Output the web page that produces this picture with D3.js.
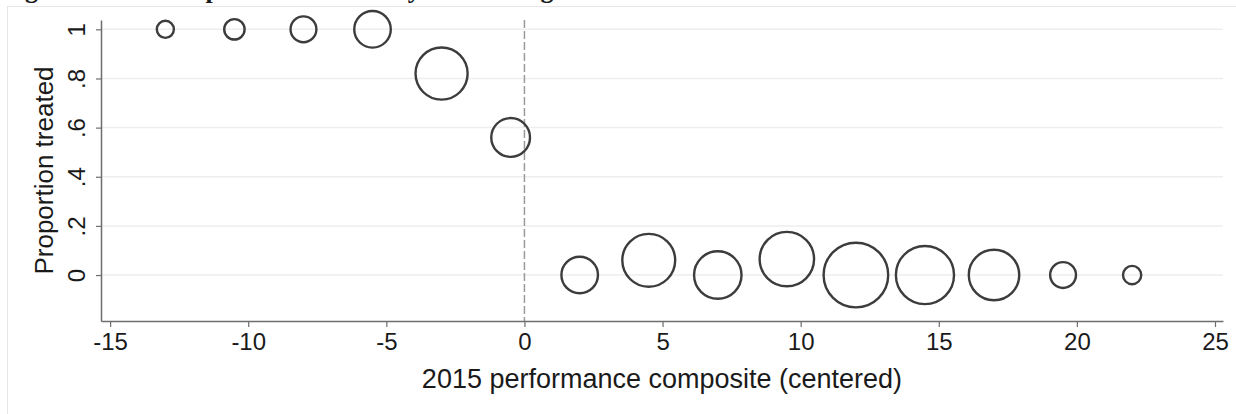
<!DOCTYPE html>
<html>
<head>
<meta charset="utf-8">
<script src="https://cdn.jsdelivr.net/npm/d3@7/dist/d3.min.js"></script>
<style>
  html, body { margin: 0; padding: 0; background: #fff; }
  svg { display: block; }
  text { font-family: "Liberation Sans", Arial, Helvetica, sans-serif; fill: #1a1a1a; }
</style>
</head>
<body>
<svg id="chart" width="1236" height="414"></svg>
<script>
// Bin midpoints of the centered 2015 performance composite
const binCenters = [-13, -10.5, -8, -5.5, -3, -0.5, 2, 4.5, 7, 9.5, 12, 14.5, 17, 19.5, 22];
// Share of schools treated in each bin
const propTreated = [1, 1, 1, 1, 0.82, 0.56, 0, 0.06, 0, 0.065, 0, 0, 0, 0, 0];
// Number of schools per bin (marker area is proportional)
const binCounts = [7, 10, 16, 32, 65, 36, 32, 67, 54, 71, 100, 81, 61, 16, 8];

const xTicks = [-15, -10, -5, 0, 5, 10, 15, 20, 25];
const xTickLabels = ["-15", "-10", "-5", "0", "5", "10", "15", "20", "25"];
const yTicks = [0, 0.2, 0.4, 0.6, 0.8, 1];
const yTickLabels = ["0", ".2", ".4", ".6", ".8", "1"];
const cutoff = 0;

const titleText = "Figure 3: The compliance schedule by 2015 rating";
const xTitle = "2015 performance composite (centered)";
const yTitle = "Proportion treated";

const W = 1236, H = 414;
const plot = { left: 101, right: 1223, top: 20, bottom: 321 };

const svg = d3.select("#chart");

svg.append("rect").attr("width", W).attr("height", H).attr("fill", "#fff");

// Document caption sitting above the figure frame
svg.append("text")
  .attr("x", 2).attr("y", -2)
  .style("font-family", "'Liberation Serif', 'Times New Roman', serif")
  .style("font-weight", "bold")
  .style("font-size", "26px")
  .attr("fill", "#000")
  .text(titleText);

// Graph region frame
svg.append("rect")
  .attr("x", 7.5).attr("y", 6.5)
  .attr("width", W + 20).attr("height", H + 20)
  .attr("fill", "#fff")
  .attr("stroke", "#e6e6e6").attr("stroke-width", 1);

const x = d3.scaleLinear().domain([-15.33, 25.29]).range([plot.left, plot.right]);
const y = d3.scaleLinear().domain([-0.187, 1.038]).range([plot.bottom, plot.top]);
const r = d3.scaleSqrt().domain([0, 100]).range([0, 32.3]);

// Horizontal gridlines
svg.append("g")
  .selectAll("line")
  .data(yTicks)
  .join("line")
  .attr("x1", plot.left).attr("x2", plot.right)
  .attr("y1", d => y(d)).attr("y2", d => y(d))
  .attr("stroke", "#eeeeee").attr("stroke-width", 1.5);

// Cutoff reference line
svg.append("line")
  .attr("x1", x(cutoff)).attr("x2", x(cutoff))
  .attr("y1", plot.top).attr("y2", plot.bottom)
  .attr("stroke", "#9a9a9a").attr("stroke-width", 1.5)
  .attr("stroke-dasharray", "8,3");

// Axes
const axisColor = "#6e6e6e";

const xAxis = svg.append("g")
  .attr("transform", `translate(0,${plot.bottom})`)
  .call(d3.axisBottom(x).tickValues(xTicks).tickSize(6).tickSizeOuter(0)
    .tickFormat((d, i) => xTickLabels[i]));
xAxis.select(".domain").attr("stroke", axisColor).attr("stroke-width", 1.5);
xAxis.selectAll(".tick line").attr("stroke", axisColor).attr("stroke-width", 1.2);
xAxis.selectAll(".tick text")
  .attr("y", 28.5).attr("dy", 0)
  .style("font-size", "24px")
  .style("font-family", "'Liberation Sans', Arial, sans-serif")
  .attr("fill", "#1a1a1a");

const yAxis = svg.append("g")
  .attr("transform", `translate(${plot.left},0)`)
  .call(d3.axisLeft(y).tickValues(yTicks).tickSize(5).tickSizeOuter(0)
    .tickFormat((d, i) => yTickLabels[i]));
yAxis.select(".domain").attr("stroke", axisColor).attr("stroke-width", 1.5);
yAxis.selectAll(".tick line").attr("stroke", axisColor).attr("stroke-width", 1.2);
yAxis.selectAll(".tick text")
  .attr("transform", "rotate(-90)")
  .attr("x", 0).attr("y", -16).attr("dy", 0)
  .attr("text-anchor", "middle")
  .style("font-size", "24px")
  .style("font-family", "'Liberation Sans', Arial, sans-serif")
  .attr("fill", "#1a1a1a");

// Axis titles
svg.append("text")
  .attr("x", (plot.left + plot.right) / 2).attr("y", 387.5)
  .attr("text-anchor", "middle")
  .style("font-size", "27px")
  .text(xTitle);

svg.append("text")
  .attr("transform", `translate(53,${(plot.top + plot.bottom) / 2}) rotate(-90)`)
  .attr("text-anchor", "middle")
  .style("font-size", "26px")
  .text(yTitle);

// Weighted binned scatter
const bins = binCenters.map((c, i) => ({ c, p: propTreated[i], n: binCounts[i] }));
svg.append("g")
  .selectAll("circle")
  .data(bins)
  .join("circle")
  .attr("cx", d => x(d.c))
  .attr("cy", d => y(d.p))
  .attr("r", d => r(d.n))
  .attr("fill", "none")
  .attr("stroke", "#3c3c3c")
  .attr("stroke-width", 2.4);
</script>
</body>
</html>
